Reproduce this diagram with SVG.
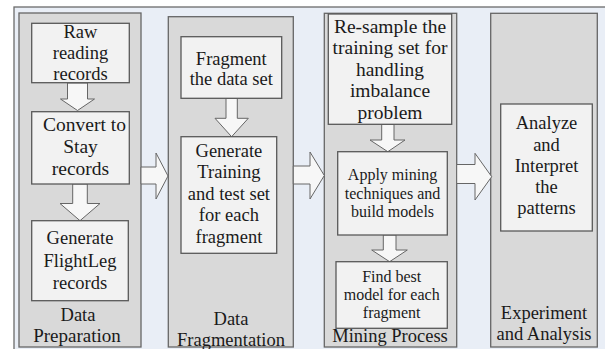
<svg xmlns="http://www.w3.org/2000/svg" width="605" height="349" viewBox="0 0 605 349">
<style>
.frame{fill:#e9eef6;stroke:#6b6b6b;stroke-width:1.3}
.col{fill:#d9d9d9;stroke:#666;stroke-width:1.3}
.box{fill:#f2f2f2;stroke:#595959;stroke-width:1.3}
.arr{fill:#f7f7f7;stroke:#666;stroke-width:1}
text{font-family:"Liberation Serif","Times New Roman",serif;font-size:18.5px;fill:#1a1a1a;text-anchor:middle}
.s{font-size:16px}
.l{font-size:19.5px}
</style>
<rect x="0" y="0" width="605" height="349" fill="#ffffff"/>
<rect class="frame" x="14" y="7" width="600" height="360"/>
<g id="col-preparation">
<rect class="col" x="19" y="13" width="122" height="334"/>
<text x="78" y="320.5">Data</text>
<text x="77" y="341.5" style="font-size:19px">Preparation</text>
</g>
<g id="col-fragmentation">
<rect class="col" x="168.3" y="16.7" width="125" height="330.3"/>
<text x="231" y="324.5">Data</text>
<text x="231" y="345.5">Fragmentation</text>
</g>
<g id="col-mining">
<rect class="col" x="324.3" y="13.3" width="132.4" height="333.7"/>
<text x="390" y="342">Mining Process</text>
</g>
<g id="col-experiment">
<rect class="col" x="490.7" y="13.3" width="106.6" height="333.7"/>
<text x="544" y="319">Experiment</text>
<text x="544" y="340">and Analysis</text>
</g>
<g id="connectors">
<polygon class="arr" points="67.5,83 87.5,83 87.5,99 94.5,99 77.5,110.5 60.5,99 67.5,99"/>
<polygon class="arr" points="72.7,184 87.3,184 87.3,203.5 100,203.5 80,220.7 60,203.5 72.7,203.5"/>
<polygon class="arr" points="226,98.3 237.3,98.3 237.3,118.3 248.3,118.3 231.6,136.7 215,118.3 226,118.3"/>
<polygon class="arr" points="381.7,124.3 394,124.3 394,140 405,140 387.8,151.7 370,140 381.7,140"/>
<polygon class="arr" points="383.3,235 396,235 396,250 407.3,250 389.6,261.7 371.7,250 383.3,250"/>
<polygon class="arr" points="141,167 156,167 156,153 168,176 156,199 156,184 141,184"/>
<polygon class="arr" points="293.3,166 310,166 310,152 324.3,175.5 310,199 310,184 293.3,184"/>
<polygon class="arr" points="456.7,164.5 475,164.5 475,153.3 491.7,176.7 475,200 475,183.5 456.7,183.5"/>
</g>
<g id="n-raw">
<rect class="box" x="31.7" y="23.3" width="97.6" height="59.4"/>
<text x="80.5" y="37.5">Raw</text>
<text x="80.5" y="58.5">reading</text>
<text x="80.5" y="79.5">records</text>
</g>
<g id="n-stay">
<rect class="box" x="31.7" y="111.7" width="97.6" height="72.3"/>
<text x="84.5" y="131" class="l">Convert to</text>
<text x="80.5" y="153" class="l">Stay</text>
<text x="80.5" y="175" class="l">records</text>
</g>
<g id="n-flightleg">
<rect class="box" x="31.7" y="220.7" width="96.6" height="80"/>
<text x="80" y="244">Generate</text>
<text x="80" y="266.5">FlightLeg</text>
<text x="80" y="288.5">records</text>
</g>
<g id="n-fragment">
<rect class="box" x="181" y="36.7" width="100.7" height="61.6"/>
<text x="231.3" y="64.5">Fragment</text>
<text x="231.3" y="85">the data set</text>
</g>
<g id="n-training">
<rect class="box" x="181" y="136.7" width="95.7" height="116.6"/>
<text x="228.9" y="156.5">Generate</text>
<text x="228.9" y="178">Training</text>
<text x="228.9" y="199.5">and test set</text>
<text x="228.9" y="221">for each</text>
<text x="228.9" y="242.5">fragment</text>
</g>
<g id="n-resample">
<rect class="box" x="328.3" y="14" width="123.4" height="110.3"/>
<text x="390" y="32.5" class="l">Re-sample the</text>
<text x="390" y="54" class="l">training set for</text>
<text x="390" y="75.5" class="l">handling</text>
<text x="390" y="97" class="l">imbalance</text>
<text x="390" y="118.5" class="l">problem</text>
</g>
<g id="n-apply">
<rect class="box" x="337.7" y="151.7" width="109.6" height="83.3"/>
<text x="392.5" y="180" class="s">Apply mining</text>
<text x="392.5" y="198.5" class="s">techniques and</text>
<text x="392.5" y="217" class="s">build models</text>
</g>
<g id="n-best">
<rect class="box" x="336" y="261.7" width="111.3" height="66.6"/>
<text x="391.7" y="281.7" class="s">Find best</text>
<text x="391.7" y="300" class="s">model for each</text>
<text x="391.7" y="318.3" class="s">fragment</text>
</g>
<g id="n-analyze">
<rect class="box" x="500.7" y="104" width="91.6" height="127"/>
<text x="546.5" y="129.3">Analyze</text>
<text x="546.5" y="150.5">and</text>
<text x="546.5" y="171.7">Interpret</text>
<text x="546.5" y="193">the</text>
<text x="546.5" y="213.5">patterns</text>
</g>
</svg>
